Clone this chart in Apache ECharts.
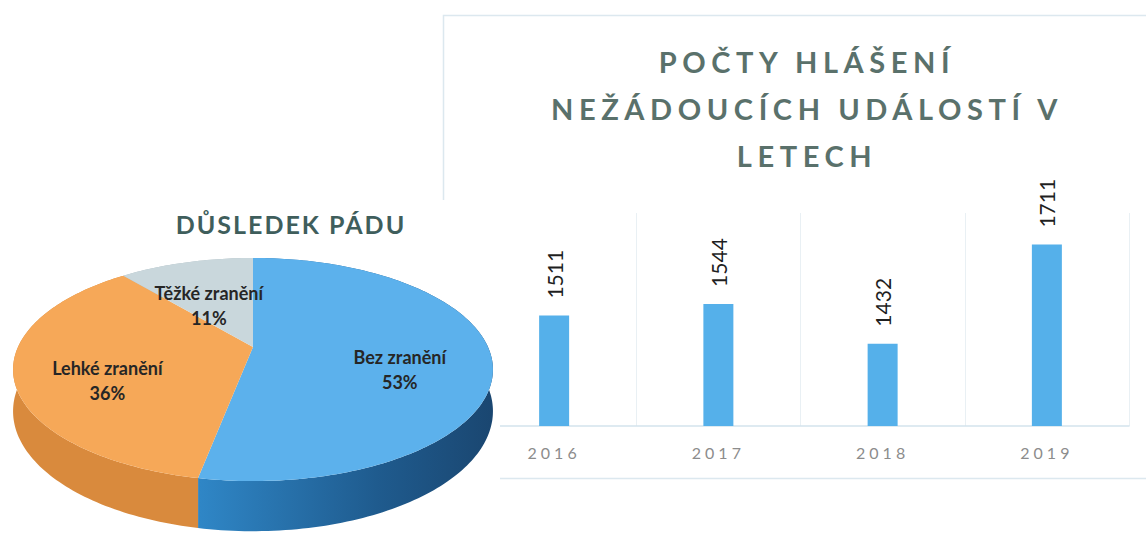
<!DOCTYPE html>
<html>
<head>
<meta charset="utf-8" />
<style>
  html, body { margin: 0; padding: 0; background: #fff; }
  #main { width: 1146px; height: 534px; }
  /* Excel-like spaced title text (svg renderer) */
  #main text[style*="29px"] { letter-spacing: 5.6px; }
  #main text[style*="25px"] { letter-spacing: 2px; }
  #main text[style*="16px"] { letter-spacing: 4px; }
</style>
</head>
<body>
<div id="main"></div>
<script src="https://cdn.jsdelivr.net/npm/echarts@6/dist/echarts.min.js"></script>
<script>
const years = ['2016', '2017', '2018', '2019'];
const reports = [1511, 1544, 1432, 1711];

const pieNames = ['Bez zranění', 'Lehké zranění', 'Těžké zranění'];
const pieShares = [53, 36, 11];

// pie look
const topColors = ['#5cb1ec', '#f6a858', '#c9d7dc'];
const sideColors = [
  ['#2f86c6', '#1f5b8e', '#1a4670'],
  ['#d98a3d', '#e4933f', '#ea9a48'],
  ['#aebcc1', '#aebcc1', '#aebcc1']
];

// perspective of the tilted disc
const CX = 253, CY = 347, RX = 235, RY = 107, K = 0.202, DEPTH = 40;

function proj(r, th, dz) {
  const u = r * Math.sin(th), v = -r * Math.cos(th);
  const w = 1 - K * v;
  return [CX + RX * u / w, CY + (RY * v + dz) / w];
}

function renderSlice(params, api) {
  const i = params.dataIndex;
  const total = pieShares.reduce((a, b) => a + b, 0);
  let before = 0;
  for (let j = 0; j < i; j++) before += pieShares[j];
  const a1 = before / total * Math.PI * 2;
  const a2 = (before + api.value(0)) / total * Math.PI * 2;
  const n = Math.max(10, Math.ceil((a2 - a1) / 0.02));

  const rimTop = [], rimBottom = [];
  for (let s = 0; s <= n; s++) {
    const t = a1 + (a2 - a1) * s / n;
    rimTop.push(proj(1, t, 0));
    rimBottom.push(proj(1, t, DEPTH));
  }
  const wall = rimTop.concat(rimBottom.slice().reverse());
  const face = [proj(0, 0, 0)].concat(rimTop);
  const mid = (a1 + a2) / 2;
  const lp = proj(0.62, mid, 16);

  return {
    type: 'group',
    children: [
      {
        type: 'polygon', z2: 0,
        shape: { points: wall },
        style: {
          fill: new echarts.graphic.LinearGradient(200, 0, 495, 0, [
            { offset: 0, color: sideColors[i][0] },
            { offset: 0.6, color: sideColors[i][1] },
            { offset: 1, color: sideColors[i][2] }
          ], true)
        }
      },
      {
        type: 'polygon', z2: 10,
        shape: { points: face },
        style: { fill: topColors[i] }
      },
      {
        type: 'text', z2: 20,
        x: lp[0], y: lp[1],
        style: {
          text: pieNames[i] + '\n' + api.value(0) + '%',
          fontFamily: 'Lato', fontWeight: 'bold', fontSize: 18,
          lineHeight: 25, fill: '#262626',
          align: 'center', verticalAlign: 'middle'
        }
      }
    ]
  };
}

const chart = echarts.init(document.getElementById('main'), null, { renderer: 'svg' });

const option = {
  animation: false,
  backgroundColor: '#fff',
  title: [
    {
      text: 'POČTY HLÁŠENÍ\nNEŽÁDOUCÍCH UDÁLOSTÍ V\nLETECH',
      left: 802, top: 33, textAlign: 'center', z: 12,
      textStyle: { fontFamily: 'Lato', fontWeight: 'bold', fontSize: 29, lineHeight: 47, color: '#5a716b' }
    },
    {
      text: 'DŮSLEDEK PÁDU',
      left: 286, top: 204, textAlign: 'center', z: 12,
      textStyle: { fontFamily: 'Lato', fontWeight: 'bold', fontSize: 25, lineHeight: 30, color: '#3f5e5c' }
    }
  ],
  graphic: [
    {
      type: 'rect', z: 0, silent: true,
      shape: { x: 443.5, y: 15.5, width: 760, height: 463 },
      style: { fill: 'none', stroke: '#dce8ef', lineWidth: 1.5 }
    },
    {
      type: 'rect', z: 5, silent: true,
      shape: { x: 0, y: 200, width: 500, height: 334 },
      style: { fill: '#fff' }
    }
  ],
  grid: { left: 472, right: 17, top: 213, bottom: 108 },
  xAxis: {
    type: 'category',
    data: years,
    axisLine: { lineStyle: { color: '#d3e3ed', width: 1.5 } },
    axisTick: { show: false },
    axisLabel: { color: '#8c8c8c', fontFamily: 'Lato', fontSize: 16, margin: 18 },
    splitLine: { show: true, lineStyle: { color: '#e9f0f4', width: 1 } }
  },
  yAxis: {
    type: 'value',
    min: 1200,
    max: 1800,
    show: false,
    splitLine: { show: false }
  },
  series: [
    {
      type: 'bar',
      data: reports,
      barWidth: 30,
      itemStyle: { color: '#55b0ea' },
      label: {
        show: true,
        position: 'top',
        rotate: 90,
        align: 'left',
        verticalAlign: 'middle',
        distance: 17,
        fontFamily: 'Lato',
        fontSize: 21,
        color: '#1f1f1f'
      }
    },
    {
      type: 'custom',
      coordinateSystem: 'none',
      z: 10,
      data: pieShares,
      renderItem: renderSlice
    }
  ]
};
chart.setOption(option);
</script>
</body>
</html>
